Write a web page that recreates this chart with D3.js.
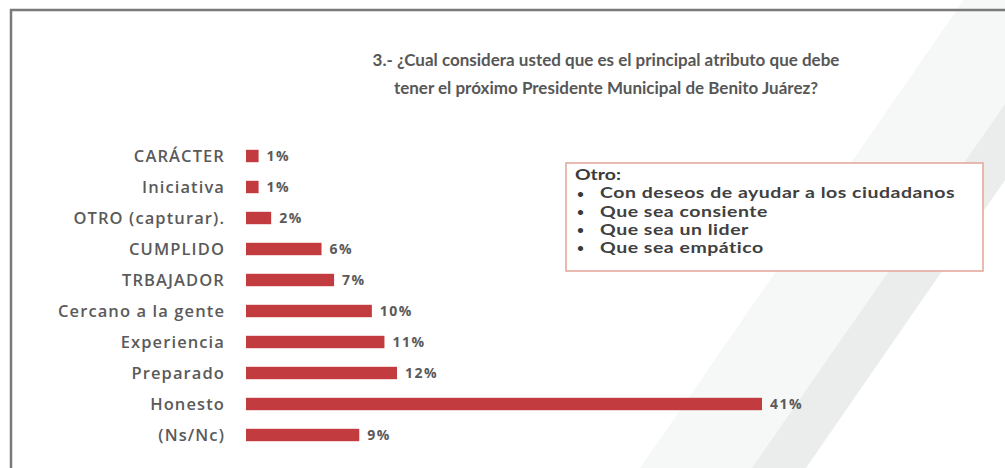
<!DOCTYPE html>
<html><head><meta charset="utf-8">
<script src="https://cdn.jsdelivr.net/npm/d3@7"></script>
<style>body{margin:0;background:#fff}svg{display:block}</style>
</head><body>
<svg id="c" width="1005" height="468"></svg>
<script>
const titleLines = ["3.- ¿Cual considera usted que es el principal atributo que debe","tener el próximo Presidente Municipal de Benito Juárez?"];
const categories = ["CARÁCTER","Iniciativa","OTRO (capturar).","CUMPLIDO","TRBAJADOR","Cercano a la gente","Experiencia","Preparado","Honesto","(Ns/Nc)"];
const values = [1,1,2,6,7,10,11,12,41,9];
const valueLabels = ["1%","1%","2%","6%","7%","10%","11%","12%","41%","9%"];
const noteTitle = "Otro:";
const noteItems = ["Con deseos de ayudar a los ciudadanos","Que sea consiente","Que sea un lider","Que sea empático"];

const svg = d3.select("#c");
svg.append("rect").attr("x",0).attr("y",0).attr("width",1005).attr("height",468).attr("fill","#fff");
svg.append("polygon").attr("points","640,468 1005,-60 1005,180 800,468").attr("fill","#f6f8f8");
svg.append("polygon").attr("points","752,468 1005,104 1005,180 806,468").attr("fill","#ebeded");
svg.append("path").attr("d","M11,468 L11,10 L1005,10").attr("fill","none").attr("stroke","#7a7a7a").attr("stroke-width",2.5);

const x = d3.scaleLinear().domain([0,41]).range([246,762]);
const y = d3.scaleBand().domain(categories).range([140.5,450.5]).paddingInner(0.6).paddingOuter(0.3);

svg.append("g").selectAll("text").data(titleLines).join("text")
  .attr("x",606).attr("y",(d,i)=>66+i*28).attr("text-anchor","middle")
  .attr("font-family","Lato, 'Open Sans', sans-serif").attr("font-weight","bold").attr("font-size",17)
  .attr("fill","#575757").text(d=>d);

const g = svg.append("g");
g.selectAll("rect").data(categories).join("rect")
  .attr("x",x(0)).attr("y",d=>y(d)).attr("height",y.bandwidth())
  .attr("width",(d,i)=>x(values[i])-x(0)).attr("fill","#c23b3f");

g.selectAll("text.cat").data(categories).join("text").attr("class","cat")
  .attr("x",225).attr("y",d=>y(d)+y.bandwidth()/2).attr("dy","0.35em").attr("text-anchor","end")
  .attr("font-family","'Open Sans', sans-serif").attr("font-weight",600).attr("font-size",16.5)
  .attr("letter-spacing","1.1px").attr("fill","#5a5a5a").text(d=>d);

g.selectAll("text.val").data(categories).join("text").attr("class","val")
  .attr("x",(d,i)=>x(values[i])+8).attr("y",d=>y(d)+y.bandwidth()/2).attr("dy","0.35em")
  .attr("font-family","'Open Sans', sans-serif").attr("font-weight",700).attr("font-size",14)
  .attr("letter-spacing","1.5px").attr("fill","#5a5a5a").text((d,i)=>valueLabels[i]);

const nb = svg.append("g");
nb.append("rect").attr("x",566).attr("y",163).attr("width",417).attr("height",108)
  .attr("fill","#fff").attr("stroke","#e2a597").attr("stroke-width",1.5);
nb.append("g").attr("transform","translate(575,0) scale(1.25,1)")
  .append("text").attr("x",0).attr("y",180).attr("font-family","Lato, sans-serif")
  .attr("font-weight",700).attr("font-size",15.5).attr("fill","#3a3a3a").text(noteTitle);
const items = nb.append("g").attr("transform","translate(600,0) scale(1.3,1)");
noteItems.forEach((t,i)=>{
  nb.append("text").attr("x",577).attr("y",197.5+i*18.3).attr("font-family","Lato, sans-serif")
    .attr("font-weight",700).attr("font-size",12).attr("fill","#3a3a3a").text("•");
  items.append("text").attr("x",0).attr("y",198.5+i*18.3).attr("font-family","Lato, sans-serif")
    .attr("font-weight",700).attr("font-size",15).attr("letter-spacing","0.4px").attr("fill","#404040").text(t);
});
</script>
</body></html>
